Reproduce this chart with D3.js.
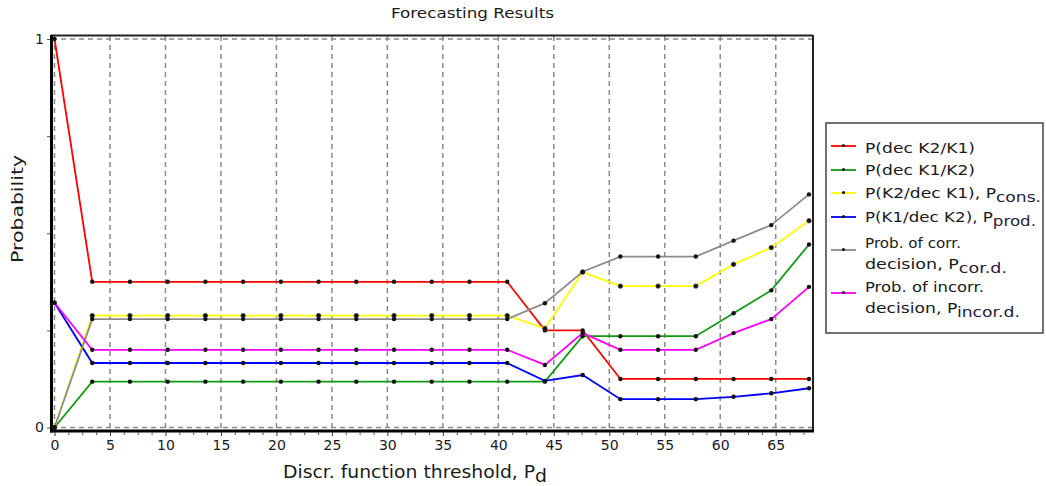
<!DOCTYPE html>
<html>
<head>
<meta charset="utf-8">
<script src="https://cdn.jsdelivr.net/npm/d3@7"></script>
<style>
  body { margin: 0; background: #fff; }
  text { font-family: "DejaVu Sans", Verdana, sans-serif; fill: #1a1a1a; }
</style>
</head>
<body>
<div id="chart"></div>
<script>
// Thresholds (x values)
const thresholds = [0, 3.4, 6.8, 10.2, 13.6, 17, 20.4, 23.8, 27.2, 30.6, 34, 37.4, 40.8, 44.2, 47.6, 51, 54.4, 57.8, 61.2, 64.6, 68];

// Series values
const decK2K1 = [1, .375, .375, .375, .375, .375, .375, .375, .375, .375, .375, .375, .375, .25, .25, .125, .125, .125, .125, .125, .125];
const decK1K2 = [0, .118, .118, .118, .118, .118, .118, .118, .118, .118, .118, .118, .118, .118, .235, .235, .235, .235, .294, .353, .471];
const pCons   = [0, .288, .288, .288, .288, .288, .288, .288, .288, .288, .288, .288, .288, .255, .40, .364, .364, .364, .42, .463, .532];
const pProd   = [.321, .166, .166, .166, .166, .166, .166, .166, .166, .166, .166, .166, .166, .12, .135, .073, .073, .073, .079, .088, .101];
const pCorD   = [0, .279, .279, .279, .279, .279, .279, .279, .279, .279, .279, .279, .279, .32, .401, .44, .44, .44, .481, .521, .60];
const pIncorD = [.321, .2, .2, .2, .2, .2, .2, .2, .2, .2, .2, .2, .2, .161, .243, .2, .2, .2, .243, .279, .362];

const xMajorTicks = [0, 5, 10, 15, 20, 25, 30, 35, 40, 45, 50, 55, 60, 65];
const xMinorTicks = [1.25, 2.5, 3.75, 6.25, 7.5, 8.75, 11.25, 12.5, 13.75, 16.25, 17.5, 18.75, 21.25, 22.5, 23.75,
                     26.25, 27.5, 28.75, 31.25, 32.5, 33.75, 36.25, 37.5, 38.75, 41.25, 42.5, 43.75, 46.25, 47.5, 48.75,
                     51.25, 52.5, 53.75, 56.25, 57.5, 58.75, 61.25, 62.5, 63.75, 66.25, 67.5];
const yTicks = [0, 0.25, 0.5, 0.75, 1];
const yLabels = [0, 1];

const series = [
    {name: ["P(dec K2/K1)"], sub: null, values: decK2K1, color: "#ff0000", len: [110]},
    {name: ["P(dec K1/K2)"], sub: null, values: decK1K2, color: "#119911", len: [110]},
    {name: ["P(K2/dec K1), P"], sub: "cons.", values: pCons, color: "#ffff00", len: [176]},
    {name: ["P(K1/dec K2), P"], sub: "prod.", values: pProd, color: "#0000ff", len: [171]},
    {name: ["Prob. of corr.", "decision, P"], sub: "cor.d.", values: pCorD, color: "#8c8c8c", len: [96, 142]},
    {name: ["Prob. of incorr.", "decision, P"], sub: "incor.d.", values: pIncorD, color: "#ff00ff", len: [119, 155]}
];

const width = 1046, height = 486;

const svg = d3.select("#chart")
    .append("svg")
    .attr("width", width)
    .attr("height", height);

const x = d3.scaleLinear().domain([0, 68]).range([54.5, 809]);
const y = d3.scaleLinear().domain([0, 1]).range([427.5, 39]);

// Title
svg.append("text")
    .attr("x", 391).attr("y", 18)
    .attr("font-size", 14)
    .attr("textLength", 163).attr("lengthAdjust", "spacingAndGlyphs")
    .text("Forecasting Results");

// Dashed grid
const grid = svg.append("g")
    .attr("stroke", "#8a8a8a")
    .attr("stroke-width", 1.5)
    .attr("stroke-dasharray", "5,4");

grid.selectAll(".vgrid")
    .data(xMajorTicks)
    .enter().append("line")
    .attr("x1", d => x(d)).attr("x2", d => x(d))
    .attr("y1", 36).attr("y2", 430);

grid.selectAll(".hgrid")
    .data(yLabels)
    .enter().append("line")
    .attr("x1", 52).attr("x2", 812)
    .attr("y1", d => y(d)).attr("y2", d => y(d));

// Frame
svg.append("line").attr("x1", 51).attr("x2", 813).attr("y1", 35.5).attr("y2", 35.5)
    .attr("stroke", "#222").attr("stroke-width", 2);
svg.append("line").attr("x1", 813).attr("x2", 813).attr("y1", 35).attr("y2", 432)
    .attr("stroke", "#222").attr("stroke-width", 2);
svg.append("line").attr("x1", 51.5).attr("x2", 51.5).attr("y1", 35).attr("y2", 432.5)
    .attr("stroke", "#000").attr("stroke-width", 3);
svg.append("line").attr("x1", 50).attr("x2", 814).attr("y1", 431).attr("y2", 431)
    .attr("stroke", "#000").attr("stroke-width", 3);

// X axis
const xAxis = svg.append("g")
    .attr("transform", "translate(0,432)")
    .call(d3.axisBottom(x).tickValues(xMajorTicks).tickSize(4).tickPadding(4));
xAxis.select(".domain").remove();
xAxis.selectAll("text").attr("font-size", 14).attr("font-family", "DejaVu Sans");
xAxis.selectAll("line").attr("stroke", "#333");

const xMinor = svg.append("g")
    .attr("transform", "translate(0,432)")
    .call(d3.axisBottom(x).tickValues(xMinorTicks).tickSize(3).tickFormat(""));
xMinor.select(".domain").remove();
xMinor.selectAll("line").attr("stroke", "#555");

// Y axis
const yAxis = svg.append("g")
    .attr("transform", "translate(50,0)")
    .call(d3.axisLeft(y).tickValues(yTicks).tickSize(3).tickPadding(3)
        .tickFormat(d => yLabels.includes(d) ? d : ""));
yAxis.select(".domain").remove();
yAxis.selectAll("text").attr("font-size", 14).attr("font-family", "DejaVu Sans");
yAxis.selectAll("line").attr("stroke", "#555");

// Axis titles
svg.append("text")
    .attr("transform", "translate(23,263) rotate(-90)")
    .attr("font-size", 16)
    .attr("textLength", 108).attr("lengthAdjust", "spacingAndGlyphs")
    .text("Probability");

const xTitle = svg.append("text")
    .attr("x", 283).attr("y", 478)
    .attr("font-size", 17)
    .attr("textLength", 264).attr("lengthAdjust", "spacingAndGlyphs");
xTitle.append("tspan").text("Discr. function threshold, P");
xTitle.append("tspan").attr("dy", 4).text("d");

// Lines and markers
const line = d3.line()
    .x((d, i) => x(thresholds[i]))
    .y(d => y(d));

series.forEach(s => {
    svg.append("path")
        .datum(s.values)
        .attr("fill", "none")
        .attr("stroke", s.color)
        .attr("stroke-width", 1.8)
        .attr("d", line);
});

series.forEach(s => {
    svg.append("g").selectAll("circle")
        .data(s.values)
        .enter().append("circle")
        .attr("cx", (d, i) => x(thresholds[i]))
        .attr("cy", d => y(d))
        .attr("r", 2.2)
        .attr("fill", "#111")
        .attr("stroke", s.color === "#ffff00" ? "#333" : "none")
        .attr("stroke-width", 0.8);
});

// Legend
const legend = svg.append("g");
legend.append("rect")
    .attr("x", 826).attr("y", 123)
    .attr("width", 217).attr("height", 210)
    .attr("fill", "#fff")
    .attr("stroke", "#444")
    .attr("stroke-width", 1.5);

const lineY = [146, 170, 193, 217, 250, 293];
const textY = [[153], [175], [198], [222], [248, 269], [292, 313]];

series.forEach((s, i) => {
    legend.append("line")
        .attr("x1", 831).attr("x2", 856)
        .attr("y1", lineY[i]).attr("y2", lineY[i])
        .attr("stroke", s.color).attr("stroke-width", 1.8);
    legend.append("circle")
        .attr("cx", 843.5).attr("cy", lineY[i] - 0.5).attr("r", 1.6)
        .attr("fill", "#111");
    s.name.forEach((n, j) => {
        const t = legend.append("text")
            .attr("x", 865).attr("y", textY[i][j])
            .attr("font-size", 14)
            .attr("textLength", s.len[j]).attr("lengthAdjust", "spacingAndGlyphs");
        t.append("tspan").text(n);
        if (s.sub && j === s.name.length - 1) {
            t.append("tspan").attr("dy", 4).attr("fill", "#2a1a3a").text(s.sub);
        }
    });
});
</script>
</body>
</html>
